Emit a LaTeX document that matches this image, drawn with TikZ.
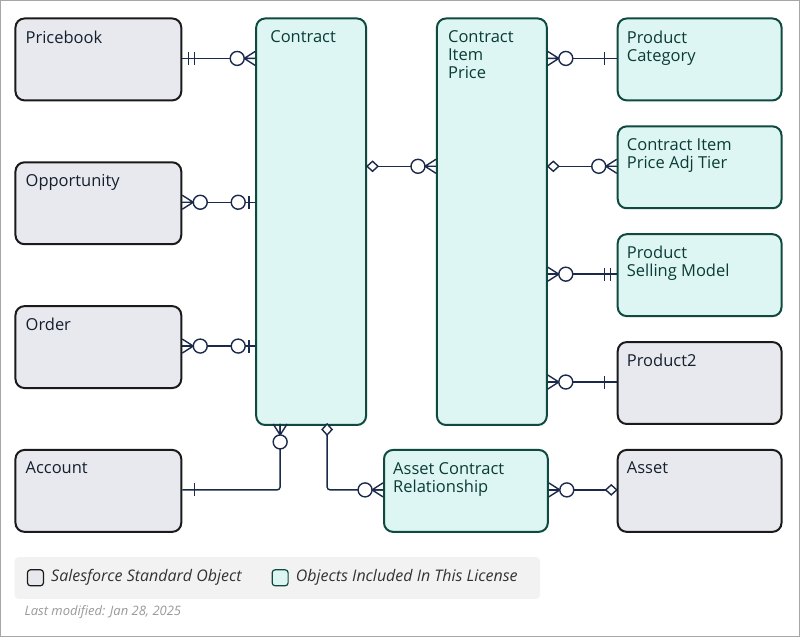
\documentclass[tikz,border=0pt]{standalone}
\usepackage{fontspec}
\setmainfont{Open Sans}
\usetikzlibrary{positioning}
\definecolor{gfill}{HTML}{E8E9EE}
\definecolor{gdraw}{HTML}{1A1A1A}
\definecolor{tfill}{HTML}{DDF6F3}
\definecolor{tdraw}{HTML}{0E4A40}
\definecolor{lc}{HTML}{1B2A4A}
\definecolor{txt}{HTML}{14202E}
\definecolor{ttxt}{HTML}{0B3B36}
\tikzset{
 box/.style={draw, line width=2pt, rounded corners=9pt, anchor=north west, inner sep=0pt},
 std/.style={box, fill=gfill, draw=gdraw},
 lic/.style={box, fill=tfill, draw=tdraw},
 lbl/.style={anchor=north west, align=left, font=\fontsize{16.5}{18}\selectfont, text=txt, inner sep=0pt},
 conn/.style={draw=lc, line width=1.4pt},
 pics/zmany/.style={code={\draw[conn] (0,7)--(11,0)--(0,-7) (0,0)--(24,0); \draw[conn,fill=white] (18,0) circle (7);}},
 pics/zone/.style={code={\draw[conn] (0,0)--(22,0) (6,6.5)--(6,-6.5); \draw[conn,fill=white] (17,0) circle (7);}},
 pics/oneone/.style={code={\draw[conn] (6,6.5)--(6,-6.5) (12,6.5)--(12,-6.5);}},
 pics/onebar/.style={code={\draw[conn] (12,6.5)--(12,-6.5);}},
 pics/diam/.style={code={\draw[conn,fill=white] (0,0)--(5.5,5)--(11,0)--(5.5,-5)--cycle;}},
}
\begin{document}
\begin{tikzpicture}[x=1pt,y=1pt]
\draw[gray!70, line width=1pt, fill=white] (0,0) rectangle (800,-637);
\useasboundingbox (0,0) rectangle (800,-637);
% boxes
\node[std, minimum width=166pt, minimum height=82pt] (pb) at (14,-17) {};
\node[std, minimum width=166pt, minimum height=82pt] (opp) at (14,-161) {};
\node[std, minimum width=166pt, minimum height=82pt] (ord) at (14,-305) {};
\node[std, minimum width=166pt, minimum height=82pt] (acc) at (14,-449) {};
\node[lic, minimum width=110pt, minimum height=407pt] (con) at (255,-17) {};
\node[lic, minimum width=110pt, minimum height=407pt] (cip) at (436,-17) {};
\node[lic, minimum width=164pt, minimum height=82pt] (pc) at (617,-17) {};
\node[lic, minimum width=164pt, minimum height=82pt] (adj) at (617,-125) {};
\node[lic, minimum width=164pt, minimum height=82pt] (psm) at (617,-233) {};
\node[std, minimum width=164pt, minimum height=82pt] (p2) at (617,-341) {};
\node[lic, minimum width=164pt, minimum height=82pt] (acr) at (383,-449) {};
\node[std, minimum width=164pt, minimum height=82pt] (ast) at (617,-449) {};
% labels
\node[lbl] (tpb) at ([shift={(11,-13)}]pb.north west) {Pricebook};
\node[lbl] (topp) at ([shift={(11,-13)}]opp.north west) {Opportunity};
\node[lbl] (tord) at ([shift={(11,-13)}]ord.north west) {Order};
\node[lbl] (tacc) at ([shift={(11,-13)}]acc.north west) {Account};
\node[lbl, text=ttxt] (tcon) at ([shift={(15,-13)}]con.north west) {Contract};
\node[lbl, text=ttxt] (tcip) at ([shift={(12,-13)}]cip.north west) {Contract\\Item\\Price};
\node[lbl, text=ttxt] (tpc) at ([shift={(10,-13)}]pc.north west) {Product\\Category};
\node[lbl, text=ttxt] (tadj) at ([shift={(10,-13)}]adj.north west) {Contract Item\\Price Adj Tier};
\node[lbl, text=ttxt] (tpsm) at ([shift={(10,-13)}]psm.north west) {Product\\Selling Model};
\node[lbl] (tp2) at ([shift={(10,-13)}]p2.north west) {Product2};
\node[lbl, text=ttxt] (tacr) at ([shift={(10,-13)}]acr.north west) {Asset Contract\\Relationship};
\node[lbl] (tast) at ([shift={(10,-13)}]ast.north west) {Asset};
% connectors
\coordinate (c1) at (con.west |- 0,-58);
\draw[conn] (pb.east |- c1) -- (c1);
\pic at (pb.east |- c1) {oneone}; \pic[rotate=180] at (c1) {zmany};
\coordinate (c2) at (con.west |- 0,-202);
\draw[conn] (opp.east |- c2) -- (c2);
\pic at (opp.east |- c2) {zmany}; \pic[rotate=180] at (c2) {zone};
\coordinate (c3) at (con.west |- 0,-346);
\draw[conn] (ord.east |- c3) -- (c3);
\pic at (ord.east |- c3) {zmany}; \pic[rotate=180] at (c3) {zone};
\coordinate (c4) at (280,-424);
\draw[conn, rounded corners=3pt] (acc.east |- 0,-490) -| (c4);
\pic at (acc.east |- 0,-490) {onebar}; \pic[rotate=-90] at (c4) {zmany};
\coordinate (c5) at (327,-424);
\draw[conn, rounded corners=3pt] (c5) |- (acr.west |- 0,-490);
\pic[rotate=-90] at (c5) {diam}; \pic[rotate=180] at (acr.west |- 0,-490) {zmany};
\coordinate (c6) at (cip.west |- 0,-166);
\draw[conn] (con.east |- c6) -- (c6);
\pic at (con.east |- c6) {diam}; \pic[rotate=180] at (c6) {zmany};
\coordinate (c7) at (pc.west |- 0,-58);
\draw[conn] (cip.east |- c7) -- (c7);
\pic at (cip.east |- c7) {zmany}; \pic[rotate=180] at (c7) {onebar};
\coordinate (c8) at (adj.west |- 0,-166);
\draw[conn] (cip.east |- c8) -- (c8);
\pic at (cip.east |- c8) {diam}; \pic[rotate=180] at (c8) {zmany};
\coordinate (c9) at (psm.west |- 0,-274);
\draw[conn] (cip.east |- c9) -- (c9);
\pic at (cip.east |- c9) {zmany}; \pic[rotate=180] at (c9) {oneone};
\coordinate (c10) at (p2.west |- 0,-382);
\draw[conn] (cip.east |- c10) -- (c10);
\pic at (cip.east |- c10) {zmany}; \pic[rotate=180] at (c10) {onebar};
\coordinate (c11) at (ast.west |- 0,-490);
\draw[conn] (acr.east |- c11) -- (c11);
\pic at (acr.east |- c11) {zmany}; \pic[rotate=180] at (c11) {diam};
% legend
\node[fill=gray!10, rounded corners=4pt, minimum width=526pt, minimum height=42pt, anchor=north west, inner sep=0pt] (leg) at (14,-557) {};
\node[draw=gdraw, fill=gfill, line width=1.2pt, rounded corners=3pt, minimum size=16pt, inner sep=0pt] (sw1) at (35,-578) {};
\node[anchor=west, font=\itshape\fontsize{16}{18}\selectfont, text=black!80, inner sep=0pt] (l1) at ([xshift=7pt]sw1.east) {Salesforce Standard Object};
\node[draw=tdraw, fill=tfill, line width=1.2pt, rounded corners=3pt, minimum size=16pt, inner sep=0pt] (sw2) at (280,-578) {};
\node[anchor=west, font=\itshape\fontsize{16}{18}\selectfont, text=black!80, inner sep=0pt] (l2) at ([xshift=7pt]sw2.east) {Objects Included In This License};
\node[anchor=west, font=\itshape\fontsize{13}{15}\selectfont, text=gray!80, inner sep=0pt] (mod) at (24,-612) {Last modified: Jan 28, 2025};
\end{tikzpicture}
\end{document}
